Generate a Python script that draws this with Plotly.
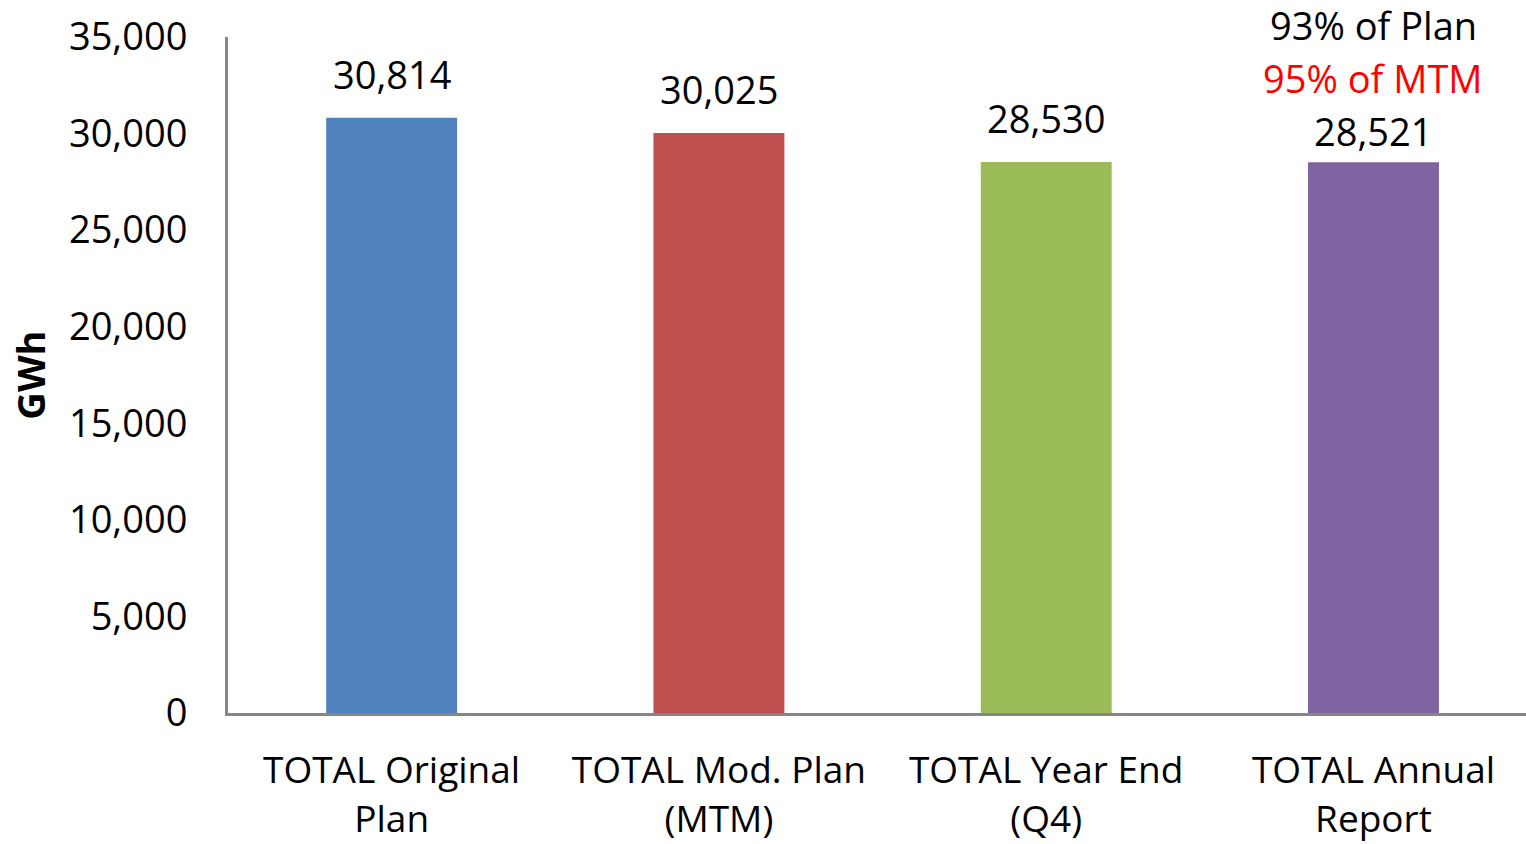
import plotly.graph_objects as go

categories = ["TOTAL Original<br>Plan", "TOTAL Mod. Plan<br>(MTM)", "TOTAL Year End<br>(Q4)", "TOTAL Annual<br>Report"]
values = [30814, 30025, 28530, 28521]
colors = ["#4F81BD", "#C0504D", "#9BBB59", "#8064A2"]
value_labels = ["30,814", "30,025", "28,530", "28,521"]
extra_lines = ["93% of Plan", "95% of MTM"]
extra_colors = ["#000000", "#FF0000"]
y_ticks = [0, 5000, 10000, 15000, 20000, 25000, 30000, 35000]
y_tick_text = ["0", "5,000", "10,000", "15,000", "20,000", "25,000", "30,000", "35,000"]

FONT = "Open Sans"
FS = 38

fig = go.Figure()
fig.add_trace(go.Bar(x=categories, y=values, marker=dict(color=colors, line=dict(width=0)),
                     hoverinfo="skip"))

annotations = []
last = len(categories) - 1
for i, (c, v, lab) in enumerate(zip(categories, values, value_labels)):
    base_shift = 3 if i == last else 16
    annotations.append(dict(x=c, y=v, xref="x", yref="y", text=lab, showarrow=False,
                            yanchor="bottom", yshift=base_shift,
                            font=dict(family=FONT, size=FS, color="#000000")))
    if i == last:
        for k, (t, col) in enumerate(zip(reversed(extra_lines), reversed(extra_colors))):
            annotations.append(dict(x=c, y=v, xref="x", yref="y", text=t, showarrow=False,
                                    yanchor="bottom", yshift=base_shift + 53 * (k + 1),
                                    font=dict(family=FONT, size=FS, color=col)))

fig.update_layout(
    width=1526, height=844,
    margin=dict(l=228, r=0, t=37, b=131, pad=0),
    paper_bgcolor="white", plot_bgcolor="white",
    bargap=0.6,
    showlegend=False,
    annotations=annotations,
    font=dict(family=FONT, size=FS, color="#000000"),
    xaxis=dict(showline=True, linecolor="#868686", linewidth=3, ticks="", showgrid=False,
               automargin=False, range=[-0.5, 3.466],
               tickfont=dict(family=FONT, size=37), ticklabelstandoff=23),
    yaxis=dict(range=[0, 35000], tickvals=y_ticks, ticktext=y_tick_text, showline=True,
               linecolor="#868686", linewidth=3, ticks="", showgrid=False, zeroline=False,
               automargin=False,
               tickfont=dict(family=FONT, size=FS), ticklabelstandoff=30,
               title=dict(text="<b>GWh</b>", font=dict(family=FONT, size=FS), standoff=12)),
)

fig.write_html("out.html", config={"displayModeBar": False},
               post_script="document.body.style.margin='0px';")
